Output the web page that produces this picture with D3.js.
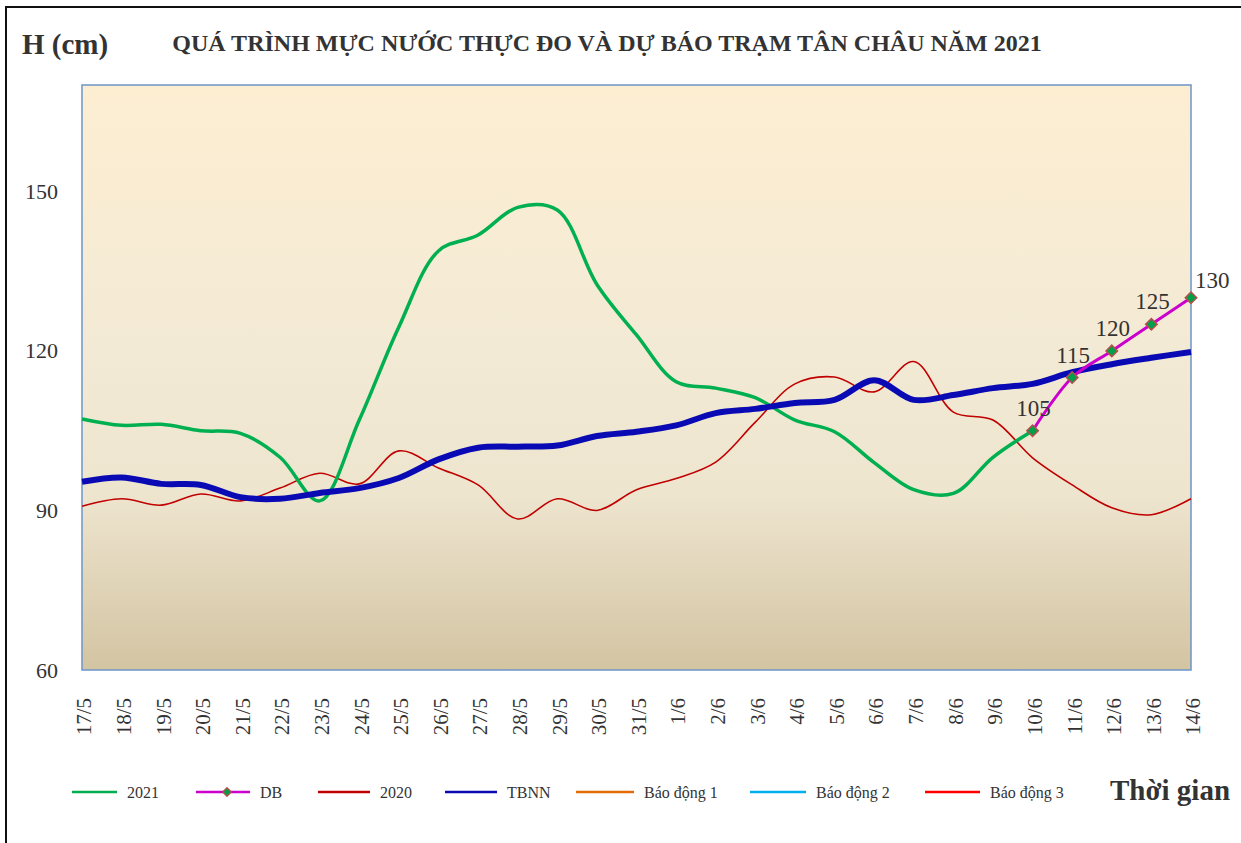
<!DOCTYPE html>
<html><head><meta charset="utf-8">
<script src="https://cdn.jsdelivr.net/npm/d3@7"></script>
<style>
body{margin:0;background:#fff}
svg{display:block}
text{font-family:"Liberation Serif","Times New Roman",serif}
</style>
</head><body>
<svg id="c" width="1241" height="843"></svg>
<script>
const dates = ["17/5","18/5","19/5","20/5","21/5","22/5","23/5","24/5","25/5","26/5","27/5","28/5","29/5","30/5","31/5","1/6","2/6","3/6","4/6","5/6","6/6","7/6","8/6","9/6","10/6","11/6","12/6","13/6","14/6"];
const yTicks = [60, 90, 120, 150];
const values2021 = [107.2,106,106.2,105,104.5,100,91.8,107,124.5,138.8,141.8,147,146.5,132.5,123,114.2,113,111.2,107,104.8,99,93.9,93.2,100,105];
const dbDates = ["10/6","11/6","12/6","13/6","14/6"];
const dbValues = [105,115,120,125,130];
const values2020 = [90.8,92.2,91,93.1,91.8,94.2,97,95,101.2,98,94.8,88.4,92.2,90,93.9,96,99.1,106.6,113.8,115.1,112.3,118,108.5,107,99.9,94.8,90.5,89.2,92.2];
const valuesTBNN = [95.4,96.2,95,94.8,92.5,92.2,93.3,94.2,96.1,99.6,101.8,102,102.2,104,104.8,106,108.3,109.1,110.2,110.8,114.5,110.8,111.7,113,113.8,116,117.5,118.7,119.8];
const legendNames = ["2021","DB","2020","TBNN","Báo động 1","Báo động 2","Báo động 3"];
const legendColors = ["#00b050","#cc00cc","#c00000","#0a0ab4","#e36c09","#00b0f0","#ff0000"];

const svg = d3.select("#c");
const W = 1241, H = 843;
const plot = {l:82, r:1191, t:85, b:670};

// outer frame
svg.append("rect").attr("x",6).attr("y",7).attr("width",W+20).attr("height",H+20)
  .attr("fill","#fff").attr("stroke","#111").attr("stroke-width",2);

const defs = svg.append("defs");
const g = defs.append("linearGradient").attr("id","bg").attr("x1",0).attr("y1",0).attr("x2",0).attr("y2",1);
g.append("stop").attr("offset","0%").attr("stop-color","#fdeed2");
g.append("stop").attr("offset","45%").attr("stop-color","#f3ead5");
g.append("stop").attr("offset","70%").attr("stop-color","#eee5cf");
g.append("stop").attr("offset","100%").attr("stop-color","#d3c4a2");

const x = d3.scalePoint().domain(dates).range([plot.l, plot.r]);
const y = d3.scaleLinear().domain([60,170]).range([plot.b, plot.t]);

svg.append("rect").attr("x",plot.l).attr("y",plot.t).attr("width",plot.r-plot.l).attr("height",plot.b-plot.t)
  .attr("fill","url(#bg)").attr("stroke","#6d95c9").attr("stroke-width",1.5);

// y axis labels
const yAxis = d3.axisLeft(y).tickValues(yTicks).tickSize(0).tickPadding(24);
const ya = svg.append("g").attr("transform",`translate(${plot.l},0)`).call(yAxis);
ya.select(".domain").remove();
ya.selectAll("text").attr("font-size",22).attr("fill","#333").attr("font-family","Liberation Serif").attr("dy","0.32em");

// x axis labels
const xAxis = d3.axisBottom(x).tickSize(0).tickPadding(0);
const xa = svg.append("g").attr("transform",`translate(0,${plot.b})`).call(xAxis);
xa.select(".domain").remove();
xa.selectAll("text").attr("font-size",21).attr("fill","#333").attr("font-family","Liberation Serif")
  .attr("text-anchor","end").attr("y",0).attr("x",-28)
  .attr("transform","rotate(-90)").attr("dy","0.42em");

const line = d3.line().x(d=>x(d[0])).y(d=>y(d[1])).curve(d3.curveCatmullRom.alpha(0.5));

const d2020 = dates.map((d,i)=>[d, values2020[i]]);
const dTBNN = dates.map((d,i)=>[d, valuesTBNN[i]]);
const d2021 = values2021.map((v,i)=>[dates[i], v]);
const dDB = dbDates.map((d,i)=>[d, dbValues[i]]);

svg.append("path").attr("d",line(d2020)).attr("fill","none").attr("stroke","#c00000").attr("stroke-width",1.6);
svg.append("path").attr("d",line(d2021)).attr("fill","none").attr("stroke","#00b050").attr("stroke-width",3.5);
svg.append("path").attr("d",line(dTBNN)).attr("fill","none").attr("stroke","#0a0ab4").attr("stroke-width",6);
svg.append("path").attr("d",line(dDB)).attr("fill","none").attr("stroke","#cc00cc").attr("stroke-width",3);

svg.selectAll(".mk").data(dDB).enter().append("path")
  .attr("d",d3.symbol().type(d3.symbolSquare).size(66))
  .attr("transform",d=>`translate(${x(d[0])},${y(d[1])}) rotate(45)`)
  .attr("fill","#00a04a").attr("stroke","#b5504a").attr("stroke-width",1.5);

svg.selectAll(".lb").data(dDB).enter().append("text")
  .attr("x",(d,i)=> i===dDB.length-1 ? x(d[0])+4 : x(d[0])+1)
  .attr("y",(d,i)=> i===dDB.length-1 ? y(d[1])-10 : y(d[1])-15)
  .attr("text-anchor",(d,i)=> i===dDB.length-1 ? "start" : "middle")
  .attr("font-size",23).attr("fill","#333").text(d=>d[1]);

// titles
svg.append("text").attr("x",22).attr("y",54).attr("font-size",29).attr("font-weight","bold").attr("fill","#333").text("H (cm)");
svg.append("text").attr("x",607).attr("y",51).attr("text-anchor","middle").attr("font-size",24).attr("font-weight","bold").attr("fill","#333")
  .text("QUÁ TRÌNH MỰC NƯỚC THỰC ĐO VÀ DỰ BÁO TRẠM TÂN CHÂU NĂM 2021");

// legend
const legX = [72,196,318,445,576,750,925];
const legLen = [45,54,52,52,58,56,55];
const lg = svg.append("g");
legendNames.forEach((n,i)=>{
  const lx = legX[i];
  const len = legLen[i];
  lg.append("line").attr("x1",lx).attr("x2",lx+len).attr("y1",792).attr("y2",792).attr("stroke",legendColors[i]).attr("stroke-width",2.5);
  if(n==="DB"){
    lg.append("path").attr("d",d3.symbol().type(d3.symbolSquare).size(36)).attr("transform",`translate(${lx+len/2+4},792) rotate(45)`)
      .attr("fill","#00a04a").attr("stroke","#b5504a").attr("stroke-width",1.3);
  }
  lg.append("text").attr("x",lx+len+10).attr("y",798).attr("font-size",16).attr("fill","#333").text(n);
});
svg.append("text").attr("x",1110).attr("y",800).attr("font-size",29).attr("font-weight","bold").attr("fill","#333").text("Thời gian");
</script>
</body></html>
